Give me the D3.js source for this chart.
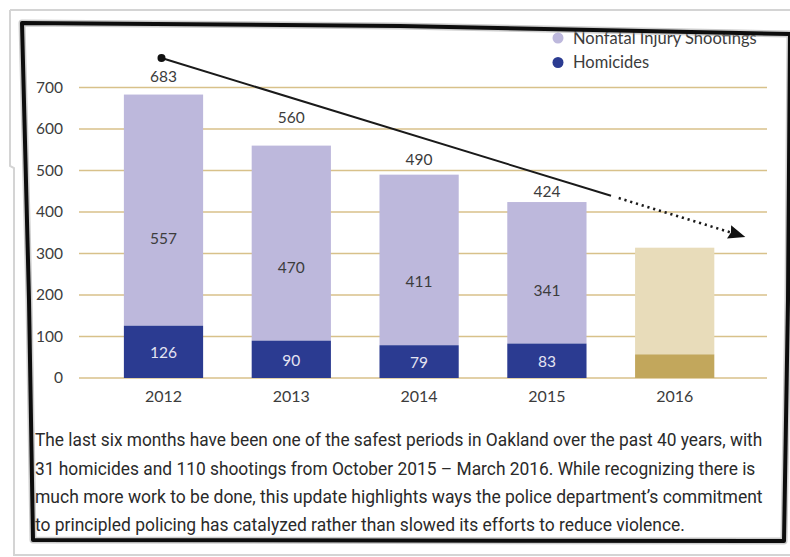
<!DOCTYPE html>
<html>
<head>
<meta charset="utf-8">
<script src="https://cdn.jsdelivr.net/npm/d3@7"></script>
<style>
  body { margin: 0; background: #fff; }
  svg { display: block; }
</style>
</head>
<body>
<div id="chart"></div>
<script>
// data
const years = ["2012", "2013", "2014", "2015", "2016"];
const homicides = [126, 90, 79, 83, 57];
const nonfatal = [557, 470, 411, 341, 257];
const projected = [false, false, false, false, true];
const yTicks = [0, 100, 200, 300, 400, 500, 600, 700];
const seriesNames = ["Nonfatal Injury Shootings", "Homicides"];
const captionLines = [
  "The last six months have been one of the safest periods in Oakland over the past 40 years, with",
  "31 homicides and 110 shootings from October 2015 \u2013 March 2016. While recognizing there is",
  "much more work to be done, this update highlights ways the police department\u2019s commitment",
  "to principled policing has catalyzed rather than slowed its efforts to reduce violence."
];

const W = 790, H = 557;
const colors = {
  nonfatal: "#bdb8dc", homicide: "#2b3b91",
  projNonfatal: "#e8dcba", projHomicide: "#c2a75c",
  grid: "#d8c18a", text: "#3c3c3c"
};
// how far the total labels sit above each bar (px)
const totalLift = [18, 28, 15, 10];
const chartFont = "Lato, 'Open Sans', sans-serif";

const svg = d3.select("#chart").append("svg")
    .attr("width", W)
    .attr("height", H);

svg.append("rect").attr("width", W).attr("height", H).attr("fill", "#fff");

// paper card behind the frame
svg.append("path")
    .attr("d", "M10,10 L792,10 M10,10 L10,166 L14,168 L14,555 L792,555")
    .attr("fill", "none")
    .attr("stroke", "#d4d4d4")
    .attr("stroke-width", 2);

const x = d3.scaleBand()
    .domain(years)
    .range([99.6, 738.6])
    .paddingInner(0.38)
    .paddingOuter(0.19);

const y = d3.scaleLinear()
    .domain([0, 700])
    .range([378, 87.5]);

// gridlines
svg.append("g").selectAll("line")
    .data(yTicks)
    .enter().append("line")
    .attr("x1", 79)
    .attr("x2", 767)
    .attr("y1", d => y(d))
    .attr("y2", d => y(d))
    .attr("stroke", colors.grid)
    .attr("stroke-width", 1.6);

// y axis labels
svg.append("g").selectAll("text")
    .data(yTicks)
    .enter().append("text")
    .attr("x", 63)
    .attr("y", d => y(d))
    .attr("dy", "0.35em")
    .attr("text-anchor", "end")
    .style("font-family", chartFont)
    .style("font-size", "15.5px")
    .attr("fill", colors.text)
    .text(d => d);

const rows = years.map((yr, i) => ({
  year: yr, hom: homicides[i], non: nonfatal[i], total: homicides[i] + nonfatal[i], proj: projected[i], i: i
}));

// bars
svg.append("g").selectAll("rect")
    .data(rows)
    .enter().append("rect")
    .attr("x", d => x(d.year))
    .attr("width", x.bandwidth())
    .attr("y", d => y(d.total))
    .attr("height", d => y(d.hom) - y(d.total))
    .attr("fill", d => d.proj ? colors.projNonfatal : colors.nonfatal);

svg.append("g").selectAll("rect")
    .data(rows)
    .enter().append("rect")
    .attr("x", d => x(d.year))
    .attr("width", x.bandwidth())
    .attr("y", d => y(d.hom))
    .attr("height", d => y(0) - y(d.hom))
    .attr("fill", d => d.proj ? colors.projHomicide : colors.homicide);

const actual = rows.filter(d => !d.proj);
const cx = d => x(d.year) + x.bandwidth() / 2;

// value labels
svg.append("g").selectAll("text")
    .data(actual)
    .enter().append("text")
    .attr("x", cx)
    .attr("y", d => y(d.total) - totalLift[d.i])
    .attr("dy", "0.35em")
    .attr("text-anchor", "middle")
    .style("font-family", chartFont)
    .style("font-size", "15.5px")
    .attr("fill", colors.text)
    .text(d => d.total);

svg.append("g").selectAll("text")
    .data(actual)
    .enter().append("text")
    .attr("x", cx)
    .attr("y", d => y(d.hom + d.non * 0.375))
    .attr("dy", "0.35em")
    .attr("text-anchor", "middle")
    .style("font-family", chartFont)
    .style("font-size", "15.5px")
    .attr("fill", colors.text)
    .text(d => d.non);

svg.append("g").selectAll("text")
    .data(actual)
    .enter().append("text")
    .attr("x", cx)
    .attr("y", d => (y(d.hom) + y(0)) / 2 + 1)
    .attr("dy", "0.35em")
    .attr("text-anchor", "middle")
    .style("font-family", chartFont)
    .style("font-size", "15.5px")
    .attr("fill", "#e4e4f2")
    .text(d => d.hom);

// x axis labels
svg.append("g").selectAll("text")
    .data(years)
    .enter().append("text")
    .attr("x", d => x(d) + x.bandwidth() / 2)
    .attr("y", 396)
    .attr("dy", "0.35em")
    .attr("text-anchor", "middle")
    .style("font-family", chartFont)
    .style("font-size", "16px")
    .attr("fill", colors.text)
    .text(d => d);

// trend arrow
const p0 = [x("2012") + x.bandwidth() / 2 - 2, y(771)];
const p1 = [x("2016") + x.bandwidth() + 31, y(340)];
const t = 0.77;
const pm = [p0[0] + (p1[0] - p0[0]) * t, p0[1] + (p1[1] - p0[1]) * t];
const ang = Math.atan2(p1[1] - p0[1], p1[0] - p0[0]);

svg.append("line")
    .attr("x1", p0[0]).attr("y1", p0[1])
    .attr("x2", pm[0]).attr("y2", pm[1])
    .attr("stroke", "#1a1a1a")
    .attr("stroke-width", 2);

svg.append("line")
    .attr("x1", pm[0] + 8 * Math.cos(ang)).attr("y1", pm[1] + 8 * Math.sin(ang))
    .attr("x2", p1[0] - 14 * Math.cos(ang)).attr("y2", p1[1] - 14 * Math.sin(ang))
    .attr("stroke", "#1a1a1a")
    .attr("stroke-width", 2.6)
    .attr("stroke-dasharray", "2.2,3.8");

svg.append("circle")
    .attr("cx", p0[0]).attr("cy", p0[1])
    .attr("r", 4)
    .attr("fill", "#111");

svg.append("path")
    .attr("d", "M0,0 L-17,-7 L-15,0 L-17,7 Z")
    .attr("transform", `translate(${p1[0]},${p1[1]}) rotate(${ang * 180 / Math.PI})`)
    .attr("fill", "#111");

// legend
const legend = svg.append("g");
const legendColors = [colors.nonfatal, colors.homicide];
seriesNames.forEach((name, i) => {
  legend.append("circle")
      .attr("cx", 558)
      .attr("cy", 38 + i * 24.5)
      .attr("r", 5.5)
      .attr("fill", legendColors[i]);
  legend.append("text")
      .attr("x", 573)
      .attr("y", 38 + i * 24.5)
      .attr("dy", "0.35em")
      .style("font-family", chartFont)
      .style("font-size", "16.5px")
      .attr("fill", colors.text)
      .text(name);
});

// caption: condensed look by squeezing each line horizontally
const captionEnds = [763, 756, 763, 685];
const cap = svg.append("g");
captionLines.forEach((line, i) => {
  const txt = cap.append("text")
      .attr("x", 0)
      .attr("y", 0)
      .attr("dy", "0.35em")
      .style("font-family", "Roboto, 'Noto Sans', sans-serif")
      .style("font-size", "18px")
      .attr("fill", "#2a2a2a")
      .text(line);
  const len = txt.node().getComputedTextLength();
  const sx = (captionEnds[i] - 35) / len;
  txt.attr("transform", `translate(35,${440 + i * 28.3}) scale(${sx},1)`);
});

// hand-drawn black frame
const frame = "M22,23 L400,26 L790,34 L788,300 L784,541 L33,540 L29,300 Z";
svg.append("path")
    .attr("d", frame)
    .attr("fill", "none")
    .attr("stroke", "#999")
    .attr("stroke-width", 7)
    .attr("stroke-linejoin", "round")
    .attr("opacity", 0.5);

svg.append("path")
    .attr("d", frame)
    .attr("fill", "none")
    .attr("stroke", "#0d0d0d")
    .attr("stroke-width", 4)
    .attr("stroke-linejoin", "round");
</script>
</body>
</html>
